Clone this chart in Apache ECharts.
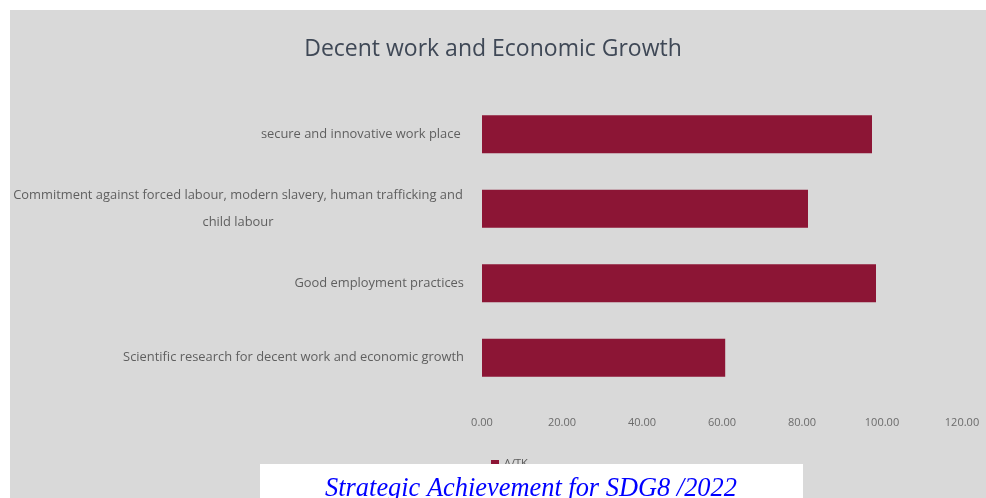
<!DOCTYPE html>
<html>
<head>
<meta charset="utf-8">
<title>Decent work and Economic Growth</title>
<script src="https://cdn.jsdelivr.net/npm/echarts@6/dist/echarts.min.js"></script>
<style>
  html, body { margin: 0; padding: 0; background: #fff; }
  #main { width: 986px; height: 498px; }
</style>
</head>
<body>
<div id="main"></div>
<script>
// categories, top to bottom
var categories = [
  'secure and innovative work place ',
  'Commitment against forced labour, modern slavery, human trafficking and\nchild labour',
  'Good employment practices',
  'Scientific research for decent work and economic growth'
];
var seriesName = 'A/TK';
var values = [97.5, 81.5, 98.5, 60.8];
var xTicks = [0, 20, 40, 60, 80, 100, 120];

var chart = echarts.init(document.getElementById('main'));

var option = {
  backgroundColor: '#ffffff',
  animation: false,
  title: {
    text: 'Decent work and Economic Growth',
    left: 'center',
    top: 33,
    textStyle: {
      fontFamily: 'Open Sans',
      fontSize: 23,
      fontWeight: 'normal',
      color: '#3f4856'
    }
  },
  graphic: [
    {
      type: 'rect',
      z: -10,
      shape: { x: 10, y: 10, width: 976, height: 488 },
      style: { fill: '#d9d9d9' }
    },
    {
      type: 'rect',
      z: 100,
      shape: { x: 260, y: 464, width: 543, height: 34 },
      style: { fill: '#ffffff' }
    },
    {
      type: 'text',
      z: 101,
      x: 531,
      y: 476,
      style: {
        text: 'Strategic Achievement for SDG8 /2022',
        fontFamily: 'Liberation Serif',
        fontStyle: 'italic',
        fontSize: 26.4,
        fill: '#0000ff',
        align: 'center',
        verticalAlign: 'top'
      }
    }
  ],
  legend: {
    data: [seriesName],
    left: 486,
    top: 453,
    icon: 'rect',
    itemWidth: 8,
    itemHeight: 7,
    itemGap: 5,
    textStyle: { fontFamily: 'Open Sans', fontSize: 11, color: '#595959' }
  },
  grid: {
    left: 482,
    right: 24,
    top: 97,
    bottom: 103,
    containLabel: false
  },
  xAxis: {
    type: 'value',
    min: xTicks[0],
    max: xTicks[xTicks.length - 1],
    interval: 20,
    splitLine: { show: false },
    axisLine: { show: false },
    axisTick: { show: false },
    axisLabel: {
      margin: 22,
      fontFamily: 'Open Sans',
      fontSize: 11,
      color: '#6b6b6b',
      formatter: function (v) { return v.toFixed(2); }
    }
  },
  yAxis: {
    type: 'category',
    inverse: true,
    data: categories,
    axisLine: { show: false },
    axisTick: { show: false },
    axisLabel: {
      margin: 18,
      fontFamily: 'Open Sans',
      fontSize: 12.9,
      color: '#5f5f5f',
      lineHeight: 27,
      formatter: function (v) {
        if (v.indexOf('\n') < 0) return v;
        return v.split('\n').map(function (l) { return '{c|' + l + '}'; }).join('\n');
      },
      rich: {
        c: {
          width: 452,
          align: 'center',
          fontFamily: 'Open Sans',
          fontSize: 12.9,
          color: '#5f5f5f',
          lineHeight: 27
        }
      }
    }
  },
  series: [
    {
      name: seriesName,
      type: 'bar',
      data: values,
      barCategoryGap: '49%',
      itemStyle: { color: '#8c1535' }
    }
  ]
};

chart.setOption(option);
</script>
</body>
</html>
